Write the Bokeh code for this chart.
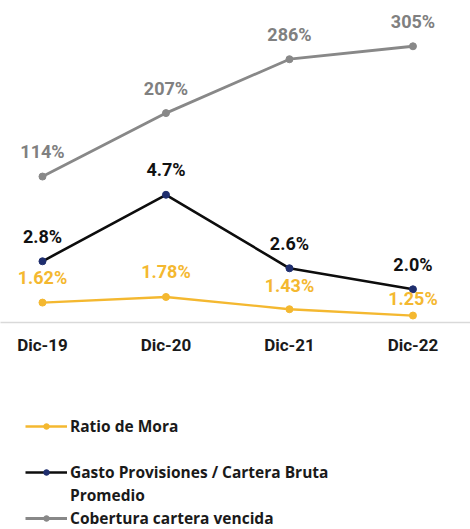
from bokeh.plotting import figure
from bokeh.layouts import column
from bokeh.models import Range1d, FixedTicker, Legend, LegendItem, ColumnDataSource
from bokeh.embed import file_html
from bokeh.resources import INLINE
from bokeh.core.properties import value

# ---- data ----
categories = ["Dic-19", "Dic-20", "Dic-21", "Dic-22"]
ratio_mora = [1.62, 1.78, 1.43, 1.25]          # %
gasto_provisiones = [2.8, 4.7, 2.6, 2.0]       # %
cobertura = [114, 207, 286, 305]               # %
ratio_labels = ["1.62%", "1.78%", "1.43%", "1.25%"]
gasto_labels = ["2.8%", "4.7%", "2.6%", "2.0%"]
cobertura_labels = ["114%", "207%", "286%", "305%"]
ratio_label_offsets = [-25, -25, -24, -17]
legend_labels = ["Ratio de Mora", "Gasto Provisiones / Cartera Bruta", "Promedio",
                 "Cobertura cartera vencida"]

x = list(range(len(categories)))

YELLOW = "#f4b830"
BLACK = "#0d0d0d"
NAVY = "#1f2e6e"
GREY = "#888888"
GREY_TXT = "#808080"
FONT = "Roboto"
LEGEND_FONT = "Open Sans"

p = figure(width=470, height=372, output_backend="svg", toolbar_location=None,
           x_range=Range1d(-0.340, 3.466), y_range=Range1d(1.051, 10.25),
           y_axis_location=None,
           min_border_left=0, min_border_right=0, min_border_top=0,
           min_border_bottom=50)
p.extra_y_ranges = {"cob": Range1d(-100, 372.1)}
p.outline_line_color = None
p.grid.visible = False
p.background_fill_color = "white"
p.border_fill_color = "white"

ax = p.xaxis[0]
ax.ticker = FixedTicker(ticks=x)
ax.major_label_overrides = {i: c for i, c in zip(x, categories)}
ax.major_tick_line_color = None
ax.minor_tick_line_color = None
ax.axis_line_color = "#d9d9d9"
ax.axis_line_width = 1.5
ax.major_label_text_font = FONT
ax.major_label_text_font_style = "bold"
ax.major_label_text_font_size = "17px"
ax.major_label_text_color = "#1a1a1a"
ax.major_label_standoff = 6

src = ColumnDataSource(dict(x=x, mora=ratio_mora, gasto=gasto_provisiones, cob=cobertura,
                            mora_lbl=ratio_labels, gasto_lbl=gasto_labels, cob_lbl=cobertura_labels,
                            mora_off=ratio_label_offsets))

line_styles = {
    "mora": dict(line_color=YELLOW, line_width=2.3),
    "gasto": dict(line_color=BLACK, line_width=2.6),
    "cob": dict(line_color=GREY, line_width=2.8),
}
marker_styles = {
    "mora": dict(size=7, fill_color=YELLOW, line_color=YELLOW),
    "gasto": dict(size=7, fill_color=NAVY, line_color=NAVY),
    "cob": dict(size=7, fill_color=GREY, line_color=GREY),
}

# series
p.line("x", "mora", source=src, **line_styles["mora"])
p.scatter("x", "mora", source=src, **marker_styles["mora"])
p.line("x", "gasto", source=src, **line_styles["gasto"])
p.scatter("x", "gasto", source=src, **marker_styles["gasto"])
p.line("x", "cob", source=src, y_range_name="cob", **line_styles["cob"])
p.scatter("x", "cob", source=src, y_range_name="cob", **marker_styles["cob"])

# data labels
common = dict(text_align="center", text_baseline="middle", text_font=value(FONT),
              text_font_style="bold", text_font_size="18px")
p.text("x", "cob", text="cob_lbl", source=src, y_range_name="cob", y_offset=-25,
       text_color=GREY_TXT, **common)
p.text("x", "gasto", text="gasto_lbl", source=src, y_offset=-25, text_color="#111111", **common)
p.text("x", "mora", text="mora_lbl", source=src, y_offset="mora_off", text_color=YELLOW, **common)

# ---- legend figure below ----
q = figure(width=470, height=157, output_backend="svg", toolbar_location=None,
           x_range=Range1d(0, 1), y_range=Range1d(0, 1),
           x_axis_location=None, y_axis_location=None,
           min_border_left=0, min_border_right=0, min_border_top=0, min_border_bottom=0)
q.outline_line_color = None
q.grid.visible = False
q.border_fill_color = "white"

nan = float("nan")
proxy = ColumnDataSource(dict(x=[nan], y=[nan]))
lr = {k: q.line("x", "y", source=proxy, **line_styles[k]) for k in line_styles}
mr = {k: q.scatter("x", "y", source=proxy, **dict(marker_styles[k], size=6)) for k in marker_styles}

items = [
    LegendItem(label=legend_labels[0], renderers=[lr["mora"], mr["mora"]]),
    LegendItem(label=" ", renderers=[]),
    LegendItem(label=legend_labels[1], renderers=[lr["gasto"], mr["gasto"]]),
    LegendItem(label=legend_labels[2], renderers=[]),
    LegendItem(label=legend_labels[3], renderers=[lr["cob"], mr["cob"]]),
]
legend = Legend(items=items, location=(25, 0),
                border_line_color=None, background_fill_alpha=0, padding=0, margin=0,
                spacing=0, glyph_width=42, glyph_height=14, label_height=23,
                label_standoff=3, label_text_font=LEGEND_FONT, label_text_font_style="bold",
                label_text_font_size="15.5px", label_text_color="#1a1a1a")
q.add_layout(legend)

layout = column(p, q, spacing=0)
open("out.html", "w").write(file_html(layout, INLINE))
